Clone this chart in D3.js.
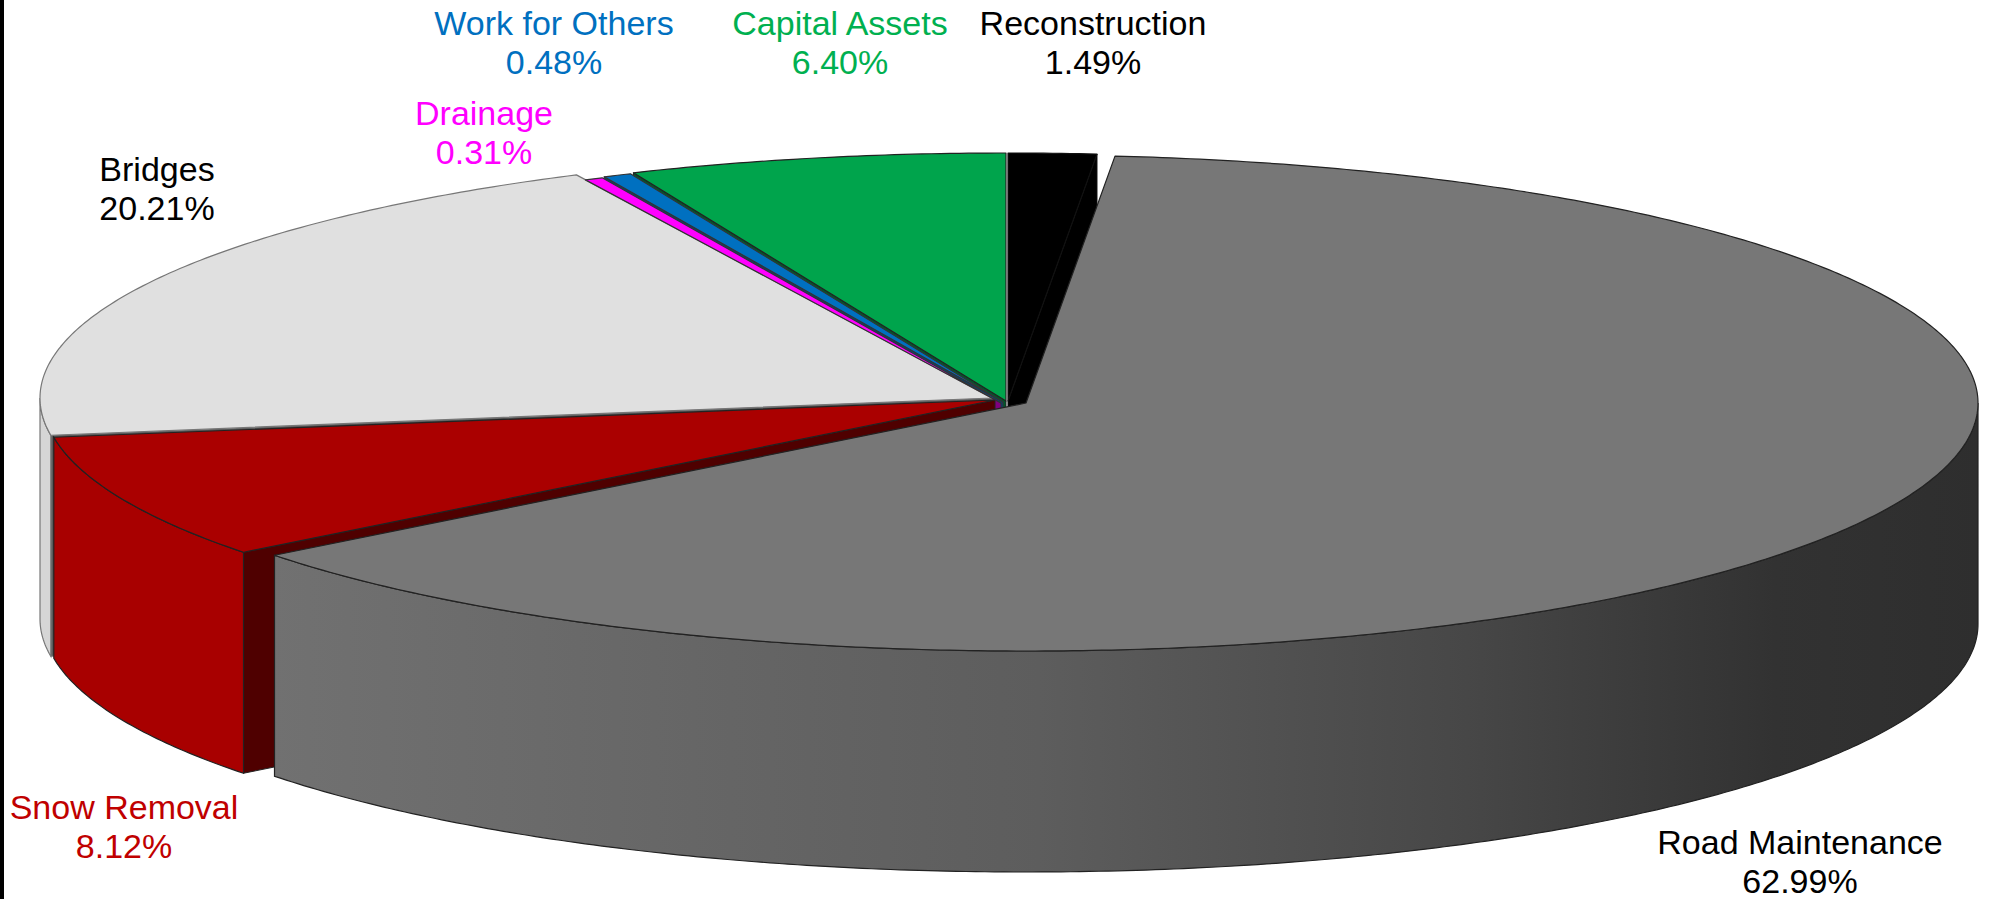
<!DOCTYPE html>
<html>
<head>
<meta charset="utf-8">
<script src="https://cdn.jsdelivr.net/npm/d3@7"></script>
<style>
  html, body { margin: 0; padding: 0; background: #fff; }
  svg { display: block; }
  text { font-family: "Liberation Sans", Arial, sans-serif; font-size: 34px; }
</style>
</head>
<body>
<div id="chart"></div>
<script>
// budget shares, clockwise from 12 o'clock
var categories = ["Reconstruction", "Road Maintenance", "Snow Removal", "Bridges", "Drainage", "Work for Others", "Capital Assets"];
var shares = [1.49, 62.99, 8.12, 20.21, 0.31, 0.48, 6.40];

// look of every slice
var topColor  = ["#000000", "#777777", "#aa0000", "#e0e0e0", "#ff00ff", "#0070c0", "#00a44c"];
var wallColor = ["#000000", "url(#roadWall)", "#a80000", "#d6d6d6", "#ff00ff", "#0070c0", "#00a44c"];
var sideColor = ["#000000", "#444444", "#4f0000", "#5a5a5a", "#800080", "#00467a", "#00592a"];
var lineColor = ["#111", "#222", "#222", "#777", "#333", "#333", "#222"];
var textColor = ["#000000", "#000000", "#c00000", "#000000", "#ff00ff", "#0070c0", "#00b050"];
// small nudges of each slice away from the base centre (px)
var nudge = [[10, 1], [28, 3], [-3, 0], [-6, -2], [3, 3], [5, 2], [8, 1]];
// label anchors (centre x, first baseline)
var labelPos = [[1093, 35], [1800, 854], [124, 819], [157, 181], [484, 125], [554, 35], [840, 35]];

var W = 1994, H = 899;
var cx = 998, cy = 400, rx = 952, ry = 248, depth = 221;

var svg = d3.select("#chart").append("svg")
    .attr("width", W)
    .attr("height", H);

svg.append("rect").attr("x", 0).attr("y", 0).attr("width", 4).attr("height", H).attr("fill", "#000");

var grad = svg.append("defs").append("linearGradient")
    .attr("id", "roadWall")
    .attr("gradientUnits", "userSpaceOnUse")
    .attr("x1", 270).attr("x2", 1980).attr("y1", 0).attr("y2", 0);
[[0, "#717171"], [0.45, "#5d5d5d"], [0.7, "#474747"], [0.88, "#323232"], [1, "#2e2e2e"]].forEach(function(s) {
    grad.append("stop").attr("offset", s[0]).attr("stop-color", s[1]);
});

var pie = d3.pie().sort(null).value(function(d) { return d; });
var arcs = pie(shares);

var line = d3.line();

function pt(i, a, down) {
    return [cx + nudge[i][0] + rx * Math.sin(a), cy + nudge[i][1] - ry * Math.cos(a) + (down || 0)];
}
function arcPts(i, a0, a1, down) {
    var n = Math.max(2, Math.ceil(Math.abs(a1 - a0) / 0.01));
    return d3.range(n + 1).map(function(k) { return pt(i, a0 + (a1 - a0) * k / n, down); });
}
function centre(i, down) {
    return [cx + nudge[i][0], cy + nudge[i][1] + (down || 0)];
}

// radial faces that look towards the viewer
var faces = [];
arcs.forEach(function(d, i) {
    if (Math.sin(d.startAngle) < 0) faces.push({ i: i, a: d.startAngle });
    if (Math.sin(d.endAngle) > 0) faces.push({ i: i, a: d.endAngle });
});
faces.sort(function(p, q) { return pt(p.i, p.a)[1] - pt(q.i, q.a)[1]; });

svg.append("g").selectAll("path")
    .data(faces)
    .enter().append("path")
    .attr("d", function(f) {
        return line([centre(f.i), pt(f.i, f.a), pt(f.i, f.a, depth), centre(f.i, depth)]) + "Z";
    })
    .attr("fill", function(f) { return sideColor[f.i]; })
    .attr("stroke", function(f) { return lineColor[f.i]; })
    .attr("stroke-width", 1);

// outer walls (front half only)
var walls = arcs.map(function(d, i) {
    var a0 = Math.max(d.startAngle, Math.PI / 2), a1 = Math.min(d.endAngle, 3 * Math.PI / 2);
    return { i: i, a0: a0, a1: a1 };
}).filter(function(w) { return w.a1 > w.a0; });

svg.append("g").selectAll("path")
    .data(walls)
    .enter().append("path")
    .attr("d", function(w) {
        var top = arcPts(w.i, w.a0, w.a1, 0);
        var bot = arcPts(w.i, w.a1, w.a0, depth);
        return line(top.concat(bot)) + "Z";
    })
    .attr("fill", function(w) { return wallColor[w.i]; })
    .attr("stroke", function(w) { return lineColor[w.i]; })
    .attr("stroke-width", 1.2);

// tops
svg.append("g").selectAll("path")
    .data(arcs)
    .enter().append("path")
    .attr("d", function(d, i) {
        return line([centre(i)].concat(arcPts(i, d.startAngle, d.endAngle, 0))) + "Z";
    })
    .attr("fill", function(d, i) { return topColor[i]; })
    .attr("stroke", function(d, i) { return lineColor[i]; })
    .attr("stroke-width", 1.2)
    .attr("stroke-linejoin", "round");

// labels
var lab = svg.append("g").selectAll("text")
    .data(arcs)
    .enter().append("text")
    .attr("text-anchor", "middle")
    .attr("fill", function(d, i) { return textColor[i]; });
lab.append("tspan")
    .attr("x", function(d, i) { return labelPos[i][0]; })
    .attr("y", function(d, i) { return labelPos[i][1]; })
    .text(function(d, i) { return categories[i]; });
lab.append("tspan")
    .attr("x", function(d, i) { return labelPos[i][0]; })
    .attr("y", function(d, i) { return labelPos[i][1] + 39; })
    .text(function(d) { return d.data.toFixed(2) + "%"; });
</script>
</body>
</html>
